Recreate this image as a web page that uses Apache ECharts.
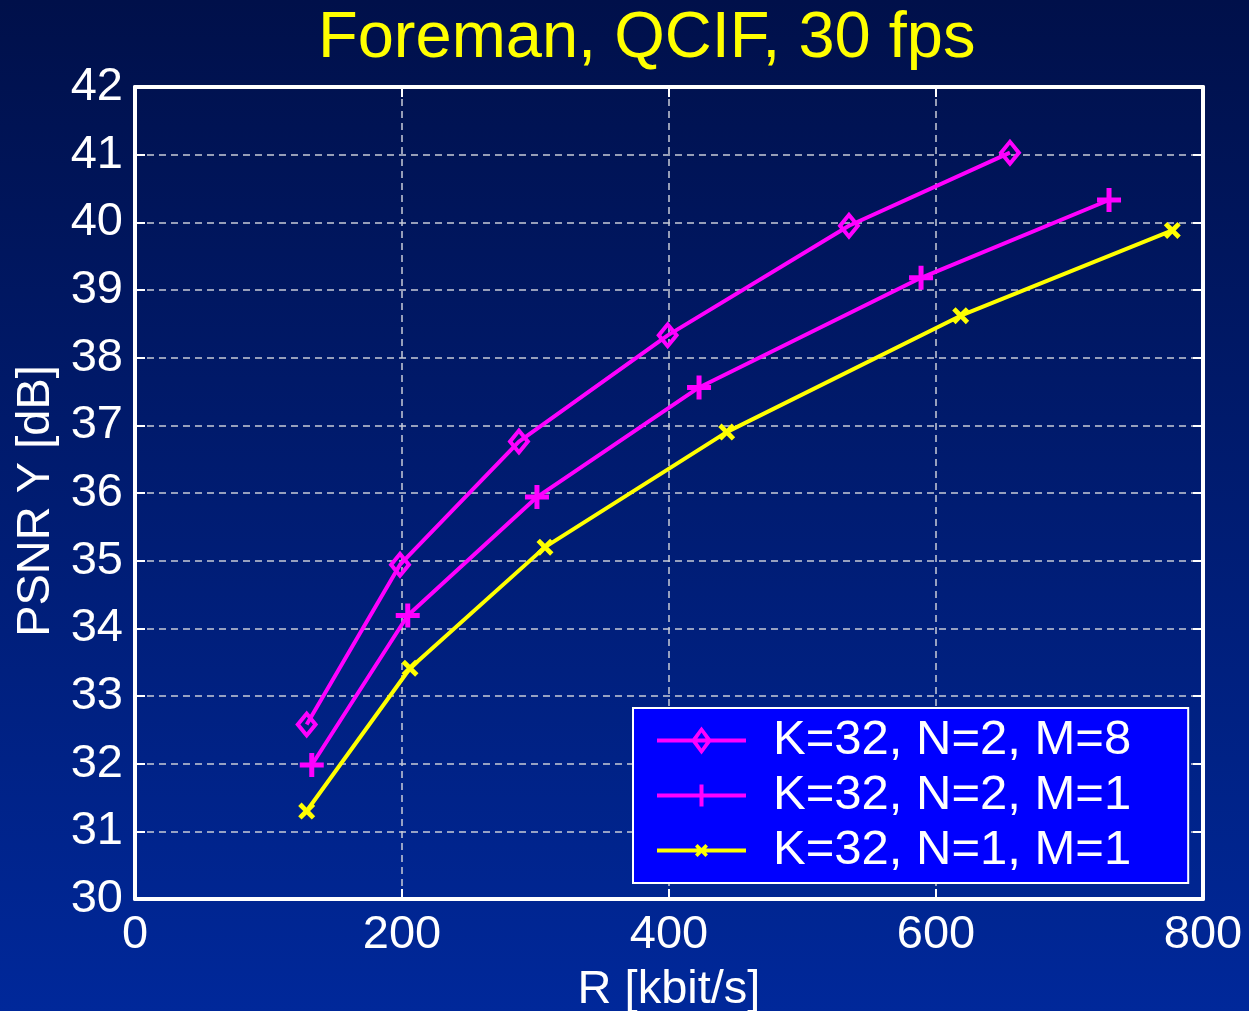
<!DOCTYPE html>
<html>
<head>
<meta charset="utf-8">
<script src="https://cdn.jsdelivr.net/npm/echarts@6/dist/echarts.min.js"></script>
<style>
html,body{margin:0;padding:0;background:#001a6e;}
#chart{width:1249px;height:1011px;}
</style>
</head>
<body>
<div id="chart"></div>
<script>
// ---- data ----
const titleText = 'Foreman, QCIF, 30 fps';
const xName = 'R [kbit/s]';
const yName = 'PSNR Y [dB]';
const seriesNames = ['K=32, N=2, M=8', 'K=32, N=2, M=1', 'K=32, N=1, M=1'];
const rateM8 = [128.6, 198.5, 287.6, 399.0, 534.8, 655.4];
const psnrM8 = [32.58, 34.94, 36.76, 38.33, 39.95, 41.03];
const rateN2 = [132.4, 204.3, 301.1, 422.5, 588.8, 729.6];
const psnrN2 = [31.98, 34.19, 35.94, 37.56, 39.18, 40.33];
const rateN1 = [128.6, 206.0, 307.1, 443.2, 618.5, 777.0];
const psnrN1 = [31.30, 33.41, 35.20, 36.90, 38.62, 39.88];
const xTicks = [0, 200, 400, 600, 800];
const yTicks = [30, 31, 32, 33, 34, 35, 36, 37, 38, 39, 40, 41, 42];

function pairs(xs, ys) { return xs.map((x, i) => [x, ys[i]]); }

// ---- symbols ----
const diamondPath = 'path://M11,0L22,13.5L11,27L0,13.5Z M11,6L5,13.5L11,21L17,13.5Z';
const plusPath = 'path://M9.5,0H14.5V9.5H24V14.5H14.5V24H9.5V14.5H0V9.5H9.5Z';
const crossPath = 'path://M0,2L2,0L5,3L8,0L10,2L7,5L10,8L8,10L5,7L2,10L0,8L3,5Z';
const anchors = 'M0,0L0.01,0L0,0.01Z M89,28L88.99,28L89,27.99Z ';
const legendDiamond = 'path://' + anchors + 'M0,12H89V16H0Z M44.5,0L55,14L44.5,28L34,14Z M44.5,6L39,14L44.5,22L50,14Z';
const legendPlus = 'path://' + anchors + 'M0,12H89V16H0Z M42.5,3H46.5V25H42.5Z';
const legendCross = 'path://' + anchors + 'M0,12H89V16H0Z M38,10.1L40.6,7.5L44.5,11.4L48.4,7.5L51,10.1L47.1,14L51,17.9L48.4,20.5L44.5,16.6L40.6,20.5L38,17.9L41.9,14Z';

const FONT = '"Liberation Sans", Arial, Helvetica, sans-serif';
const magenta = '#ff00ff';
const yellow = '#ffff00';

const chart = echarts.init(document.getElementById('chart'), null, {renderer: 'canvas'});

const gridLine = {show: true, lineStyle: {color: '#c8ccd8', width: 1.5, type: [7, 5]}};
const frameLine = {show: true, onZero: false, lineStyle: {color: '#ffffff', width: 4}};
const tickStyle = {show: true, inside: true, length: 10, lineStyle: {color: '#ffffff', width: 2}};

const option = {
  backgroundColor: {
    type: 'linear', x: 0, y: 0, x2: 0, y2: 1,
    colorStops: [{offset: 0, color: '#00104a'}, {offset: 1, color: '#00289a'}]
  },
  animation: false,
  title: {
    text: titleText,
    left: 318, top: 7, padding: 0,
    textStyle: {color: yellow, fontSize: 65, fontWeight: 'normal', fontFamily: FONT}
  },
  grid: {left: 135, right: 46, top: 87, bottom: 112, containLabel: false, outerBoundsMode: 'none'},
  legend: {
    orient: 'vertical',
    left: 633, top: 708,
    padding: [8, 57, 8, 24],
    itemGap: 6,
    itemWidth: 89, itemHeight: 28,
    backgroundColor: '#0000ff',
    borderColor: '#ffffff', borderWidth: 2, borderRadius: 0,
    textStyle: {color: '#ffffff', fontSize: 49, fontFamily: FONT, lineHeight: 49, padding: [0, 0, 0, 22]},
    data: [
      {name: seriesNames[0], icon: legendDiamond},
      {name: seriesNames[1], icon: legendPlus},
      {name: seriesNames[2], icon: legendCross}
    ]
  },
  xAxis: [{
    type: 'value', min: 0, max: 800, interval: 200, position: 'bottom',
    name: xName, nameLocation: 'middle', nameGap: 68,
    nameTextStyle: {color: '#ffffff', fontSize: 47, fontFamily: FONT},
    axisLine: frameLine, axisTick: tickStyle,
    axisLabel: {color: '#ffffff', fontSize: 47, fontFamily: FONT, margin: 13, showMinLabel: true, showMaxLabel: true},
    splitLine: gridLine
  }, {
    type: 'value', min: 0, max: 800, interval: 200, position: 'top',
    axisLine: frameLine, axisTick: tickStyle, axisLabel: {show: false}, splitLine: {show: false}
  }],
  yAxis: [{
    type: 'value', min: 30, max: 42, interval: 1, position: 'left',
    name: yName, nameLocation: 'middle', nameGap: 74, nameRotate: 90,
    nameTextStyle: {color: '#ffffff', fontSize: 47, fontFamily: FONT, padding: [0, 16, 0, 0]},
    axisLine: frameLine, axisTick: tickStyle,
    axisLabel: {color: '#ffffff', fontSize: 47, fontFamily: FONT, margin: 12},
    splitLine: gridLine
  }, {
    type: 'value', min: 30, max: 42, interval: 1, position: 'right',
    axisLine: frameLine, axisTick: tickStyle, axisLabel: {show: false}, splitLine: {show: false}
  }],
  series: [{
    name: seriesNames[0], type: 'line', data: pairs(rateM8, psnrM8),
    symbol: diamondPath, symbolSize: [23, 28], showAllSymbol: true,
    lineStyle: {color: magenta, width: 4}, itemStyle: {color: magenta}, z: 3
  }, {
    name: seriesNames[1], type: 'line', data: pairs(rateN2, psnrN2),
    symbol: plusPath, symbolSize: 24, showAllSymbol: true,
    lineStyle: {color: magenta, width: 4}, itemStyle: {color: magenta}, z: 3
  }, {
    name: seriesNames[2], type: 'line', data: pairs(rateN1, psnrN1),
    symbol: crossPath, symbolSize: 17, showAllSymbol: true,
    lineStyle: {color: yellow, width: 4}, itemStyle: {color: yellow}, z: 3
  }]
};
chart.setOption(option);
</script>
</body>
</html>
